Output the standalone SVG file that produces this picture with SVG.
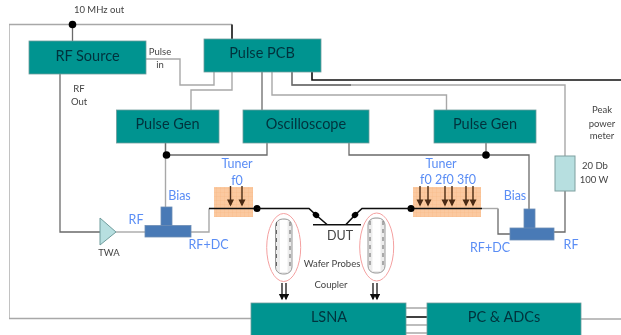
<svg xmlns="http://www.w3.org/2000/svg" width="621" height="335" viewBox="0 0 621 335">
<style>
text{font-family:Lato,"Liberation Sans",sans-serif;text-anchor:middle}
.box{fill:#009490;stroke:#6f9c9c;stroke-width:.8}
.bt{font-size:14.500px;fill:#04323c}
.s{font-size:9.500px;fill:#444}
.b{font-size:12.500px;fill:#5a8df5}
.g{fill:none;stroke:#a8a8a8;stroke-width:1.4}
.d{fill:none;stroke:#6a6a6a;stroke-width:1.3}
.k{fill:none;stroke:#111;stroke-width:1.6}
.tee{fill:#4a7ab6;stroke:#6d8db5;stroke-width:.8}
.tune{fill:#fbc9a0}
.ar{stroke:#4b2c12;stroke-width:1.4;marker-end:url(#ah)}
.el{fill:none;stroke:#f4a0a0;stroke-width:1}
.pr{fill:#ececec;stroke:#999;stroke-width:1}
.da{stroke:#666;stroke-width:1;stroke-dasharray:4 4}
.tw{stroke:#111;stroke-width:1.3;marker-end:url(#ak)}
</style>
<defs>
<filter id="soft" x="0" y="0" width="100%" height="100%"><feGaussianBlur stdDeviation="0.4"/></filter>
<marker id="ah" markerWidth="6" markerHeight="6" refX="4" refY="2.500" orient="auto"><path d="M0 0L5 2.500L0 5Z" fill="#4b2c12"/></marker>
<marker id="ak" markerWidth="6" markerHeight="6" refX="4" refY="2.500" orient="auto"><path d="M0 0L5 2.500L0 5Z" fill="#111"/></marker>
<pattern id="gr" width="4" height="4" patternUnits="userSpaceOnUse"><path d="M4 0H0V4" fill="none" stroke="#f6b27e" stroke-width=".5"/></pattern>
</defs>
<g filter="url(#soft)">
<g id="connectors">
<path class="g" d="M232 24.500H9V318.500H251"/>
<path class="k" d="M232 24.500V39" stroke-width="1"/>
<path class="d" d="M72.500 24.500V41"/>
<path class="g" d="M146 59H180V85H214V72"/>
<path class="g" d="M232 72V90H191V110"/>
<path class="d" d="M262 72V110"/>
<path class="g" d="M272 72V95H446.500V110"/>
<path class="g" d="M292 72V85H565V156"/>
<path class="d" d="M292 72V85H351"/>
<path class="k" d="M312 72V80H621"/>
<path class="d" d="M60 74V232H100"/>
<path class="g" d="M116 232H145"/>
<path class="g" d="M165.500 143V207"/>
<path class="d" d="M165.500 143V155H267V143"/>
<path class="d" d="M349 143V155H529V209"/>
<path class="d" d="M486 143V155"/>
<path class="d" d="M565 191V232H554"/>
<path class="d" d="M510 234H498V208.500"/>
<path class="g" d="M498 208.500H482"/>
<path class="g" d="M191 232H209V208.500"/>
<path class="g" d="M581 319H621"/>
<path class="g" d="M406 308H427M406 325H427M406 333H427"/>
<path class="k" d="M406 317H427"/>
</g>
<g id="tuner-left">
<rect class="tune" x="214" y="187" width="39" height="30"/>
<rect fill="url(#gr)" x="214" y="187" width="39" height="30"/>
<path class="k" d="M209 208.500H257"/>
<line class="ar" x1="230.500" y1="186" x2="230.500" y2="205"/>
<line class="ar" x1="242" y1="186" x2="242" y2="205"/>
<text class="b" x="237" y="168">Tuner</text>
<text class="b" x="237" y="185">f0</text>
</g>
<g id="tuner-right">
<rect class="tune" x="413" y="187" width="68" height="30"/>
<rect fill="url(#gr)" x="413" y="187" width="68" height="30"/>
<path class="k" d="M411 208.500H482"/>
<line class="ar" x1="420" y1="186" x2="420" y2="205"/>
<line class="ar" x1="428" y1="186" x2="428" y2="205"/>
<line class="ar" x1="445" y1="186" x2="445" y2="205"/>
<line class="ar" x1="452" y1="186" x2="452" y2="205"/>
<line class="ar" x1="466" y1="186" x2="466" y2="205"/>
<line class="ar" x1="473" y1="186" x2="473" y2="205"/>
<text class="b" x="441" y="168">Tuner</text>
<text class="b" x="448" y="184">f0 2f0 3f0</text>
</g>
<g id="dots">
<circle cx="72.500" cy="24.500" r="3.800"/>
<circle cx="166.500" cy="155" r="3.800"/>
<circle cx="486" cy="155" r="3.800"/>
<circle cx="257" cy="208.500" r="3.500"/>
<circle cx="411" cy="208.500" r="3.500"/>
</g>
<g id="dut">
<path class="k" d="M257 208.500H309L316 215L327 224.500M313 224.700H361M346 224.500L355 215L362 208.500H411"/>
<ellipse cx="316" cy="215" rx="3.500" ry="2.800" transform="rotate(40 316 215)"/>
<ellipse cx="355" cy="215" rx="3.500" ry="2.800" transform="rotate(-40 355 215)"/>
<text x="340" y="240" style="font-size:12.500px;fill:#444">DUT</text>
</g>
<g id="probe-left">
<rect class="pr" x="275.500" y="219" width="16.500" height="55" rx="7"/>
<rect x="280" y="220" width="7.500" height="52" fill="#fff"/>
<line class="da" x1="276.500" y1="222" x2="276.500" y2="270"/>
<line class="da" x1="290" y1="222" x2="290" y2="270"/>
<ellipse class="el" cx="283.700" cy="247.500" rx="17" ry="34"/>
<line class="tw" x1="282" y1="283" x2="282" y2="299"/>
<line class="tw" x1="286" y1="283" x2="286" y2="299"/>
</g>
<g id="probe-right">
<rect class="pr" x="368" y="218" width="17" height="55" rx="7"/>
<rect x="372.500" y="219" width="8" height="52" fill="#fff"/>
<line class="da" x1="370" y1="221" x2="370" y2="269"/>
<line class="da" x1="383" y1="221" x2="383" y2="269"/>
<ellipse class="el" cx="376.700" cy="247" rx="17" ry="34"/>
<line class="tw" x1="373" y1="283" x2="373" y2="299"/>
<line class="tw" x1="377" y1="283" x2="377" y2="299"/>
</g>
<g id="rf-source"><rect class="box" x="29" y="41" width="117" height="33"/><text class="bt" x="87.500" y="60.500">RF Source</text></g>
<g id="pulse-pcb"><rect class="box" x="204" y="39" width="117" height="33"/><text class="bt" x="262" y="58">Pulse PCB</text></g>
<g id="pulse-gen-left"><rect class="box" x="116.500" y="110" width="102.500" height="33"/><text class="bt" x="167.500" y="129">Pulse Gen</text></g>
<g id="oscilloscope"><rect class="box" x="243" y="110" width="126" height="33"/><text class="bt" x="306" y="129">Oscilloscope</text></g>
<g id="pulse-gen-right"><rect class="box" x="434" y="110" width="102" height="33"/><text class="bt" x="485" y="129">Pulse Gen</text></g>
<g id="lsna"><rect class="box" x="251" y="303" width="155" height="34"/><text class="bt" x="329" y="322">LSNA</text></g>
<g id="pc-adcs"><rect class="box" x="427" y="303" width="154" height="34"/><text class="bt" x="504" y="322">PC &amp; ADCs</text></g>
<g id="twa"><path d="M100 218L116 232L100 245Z" fill="#b7dfe0" stroke="#6f9c9c"/><text class="s" x="109" y="256">TWA</text></g>
<g id="bias-left"><rect class="tee" x="161" y="207" width="11" height="19"/><rect class="tee" x="145" y="225.500" width="46" height="11.500"/>
<text class="b" x="179.500" y="200">Bias</text><text class="b" x="136" y="224">RF</text><text class="b" x="208.500" y="249">RF+DC</text></g>
<g id="bias-right"><rect class="tee" x="524" y="209" width="11" height="20"/><rect class="tee" x="510" y="228" width="44" height="12"/>
<text class="b" x="515" y="200">Bias</text><text class="b" x="490" y="252">RF+DC</text><text class="b" x="571" y="249">RF</text></g>
<g id="attenuator"><rect x="555" y="156" width="20" height="35" fill="#b7dfe0" stroke="#7f9f9f"/>
<text class="s" x="595" y="169">20 Db</text><text class="s" x="594" y="183">100 W</text></g>
<g id="labels">
<text class="s" x="99" y="13">10 MHz out</text>
<text class="s" x="160" y="55">Pulse</text><text class="s" x="160" y="68">in</text>
<text class="s" x="79" y="92">RF</text><text class="s" x="79" y="105">Out</text>
<text class="s" x="602" y="113">Peak</text><text class="s" x="602" y="127">power</text><text class="s" x="602" y="139">meter</text>
<text class="s" x="332" y="267">Wafer Probes</text><text class="s" x="331" y="288">Coupler</text>
</g>
</g>
</svg>
